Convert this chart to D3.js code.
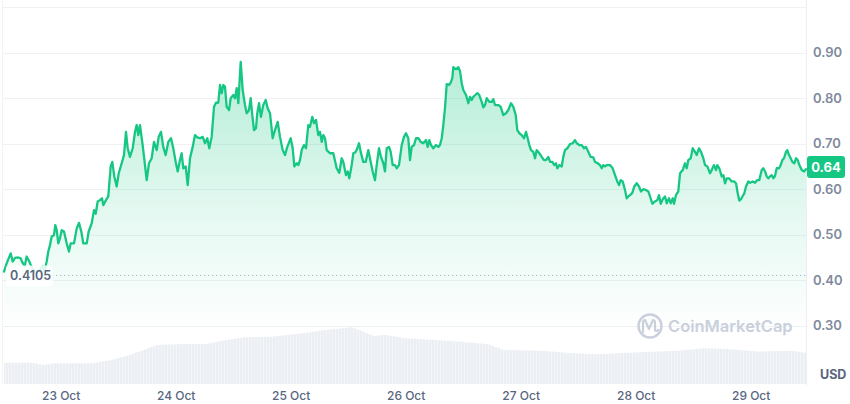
<!DOCTYPE html>
<html><head><meta charset="utf-8">
<script src="https://cdn.jsdelivr.net/npm/d3@7"></script>
<style>
html,body{margin:0;padding:0;background:#fff;}
svg{display:block;font-family:Inter,"Noto Sans",sans-serif;}
</style>
</head><body>
<svg id="chart" width="850" height="404"></svg>
<script>
// ---------- DATA ----------
const startDateUTC = Date.UTC(2023, 9, 22); // 22 Oct, 00:00 UTC; times below are hours after this

const priceHours = [
12.17,12.73,13.57,13.98,14.46,15.15,15.65,16.07,16.49,16.90,
17.45,18.01,18.64,19.47,20.24,20.62,21.08,21.41,21.77,22.12,
22.60,22.87,23.17,23.50,23.85,24.21,24.69,25.25,25.73,26.09,
26.78,27.34,27.82,28.30,28.72,29.43,29.84,30.47,30.95,31.31,
31.72,32.20,32.62,32.89,33.45,33.93,34.44,34.77,35.19,35.69,
36.11,36.73,37.21,37.63,37.98,38.46,39.03,39.51,39.86,40.20,
40.55,41.11,41.59,41.95,42.43,42.99,43.47,44.04,44.45,44.93,
45.41,45.91,46.46,47.02,47.50,48.00,48.42,48.90,49.25,49.59,
50.09,50.51,50.99,51.55,52.03,52.51,53.07,
53.64,54.12,54.60,55.01,55.51,56.00,56.41,56.89,57.25,57.60,
57.94,58.29,58.64,59.13,59.48,60.02,60.38,60.73,61.07,61.57,
61.98,62.46,62.82,63.30,63.65,63.99,64.34,64.76,65.03,65.39,
65.80,66.28,66.78,67.20,67.68,68.24,68.72,69.29,69.77,70.33,
70.81,71.29,72.00,72.42,72.75,73.25,73.59,73.94,74.30,74.78,
75.20,75.67,76.03,76.51,76.86,77.28,77.76,78.12,78.47,78.81,
79.16,79.51,80.20,80.89,81.60,82.14,82.65,82.98,83.54,83.90,
84.23,84.73,85.07,85.57,85.90,86.26,86.61,87.15,87.65,88.20,
88.70,89.11,89.59,89.95,90.43,90.85,91.33,91.68,92.04,92.52,
92.87,93.29,93.77,94.12,94.60,95.17,95.65,
96.06,96.54,96.90,97.25,97.73,98.15,98.63,99.13,99.68,100.24,
100.59,100.93,101.28,101.76,102.33,102.81,103.16,103.52,103.85,104.20,
104.56,105.04,105.39,105.73,105.94,106.50,106.98,107.33,107.69,108.02,
108.59,109.07,109.42,109.78,110.11,110.53,110.94,111.36,111.86,112.20,
112.55,112.91,113.45,113.95,114.28,114.64,115.33,115.83,116.37,116.93,
117.41,117.98,118.46,118.96,119.29,119.71,120.21,120.69,121.11,121.46,
121.80,122.15,122.63,122.99,123.34,123.88,124.39,124.86,125.28,125.76,
126.12,126.60,127.02,127.37,127.64,128.06,128.56,128.89,129.25,129.73,
130.29,130.85,131.33,131.69,132.23,132.73,133.21,133.63,134.11,134.61,
135.15,135.51,136.07,136.55,
136.91,137.24,137.60,137.95,138.64,139.20,139.68,140.16,140.52,140.87,
141.29,141.77,142.12,142.46,142.81,143.29,143.71,144.21,144.69,145.11,
145.59,146.15,146.63,146.99,147.47,148.03,148.51,148.87,149.22,149.64,
150.12,150.47,150.95,151.31,151.72,152.00,152.41,152.89,153.25,153.81,
154.29,154.65,154.98,155.48,155.90,156.38,156.73,157.21,157.63,158.11,
158.47,158.95,159.51,159.86,160.34,160.76,161.03,161.45,161.95,162.29,
162.64,163.00,163.47,164.04,164.52,164.94,165.29,165.62,165.98,166.33,
166.67,167.02,167.50,167.86,168.42,168.90,169.38,169.80,170.30,170.63,
170.99,171.34,171.68,172.03,172.39,172.72,173.07,173.43,173.91,174.26,
174.60,174.95,175.37,175.64,176.00,176.35,176.69,177.10,177.46,177.81,
178.15,178.65,179.13,179.54
];

const prices = [
0.419,0.437,0.459,0.441,0.449,0.450,0.448,0.438,0.431,0.452,
0.441,0.427,0.418,0.422,0.430,0.420,0.441,0.463,0.477,0.496,
0.499,0.521,0.510,0.481,0.492,0.510,0.507,0.481,0.463,0.481,
0.481,0.514,0.526,0.507,0.481,0.481,0.507,0.525,0.554,0.546,
0.573,0.576,0.580,0.565,0.576,0.584,0.650,0.660,0.628,0.606,
0.635,0.657,0.675,0.726,0.690,0.671,0.690,0.726,0.741,0.719,
0.741,0.697,0.653,0.620,0.657,0.668,0.704,0.686,0.715,0.726,
0.693,0.675,0.704,0.712,0.690,0.660,0.639,0.664,0.679,0.646,
0.650,0.609,0.668,0.693,0.719,0.714,0.712,
0.715,0.701,0.712,0.690,0.715,0.781,0.790,0.790,0.829,0.811,
0.829,0.825,0.781,0.774,0.800,0.807,0.800,0.822,0.789,0.880,
0.818,0.785,0.767,0.774,0.800,0.763,0.730,0.734,0.767,0.789,
0.759,0.785,0.796,0.778,0.767,0.712,0.730,0.748,0.715,0.686,
0.675,0.693,0.712,0.690,0.650,0.657,0.653,0.664,0.686,0.697,
0.690,0.741,0.737,0.759,0.745,0.752,0.719,0.726,0.704,0.719,
0.712,0.686,0.679,0.679,0.646,0.636,0.668,0.660,0.631,0.639,
0.624,0.653,0.679,0.682,0.690,0.701,0.682,0.660,0.660,0.686,
0.660,0.639,0.620,0.653,0.690,0.671,0.657,0.639,0.690,0.693,
0.682,0.653,0.653,0.646,0.653,0.697,0.715,
0.723,0.712,0.664,0.693,0.697,0.712,0.712,0.704,0.701,0.708,
0.693,0.708,0.697,0.690,0.697,0.693,0.697,0.712,0.741,0.778,
0.831,0.829,0.834,0.844,0.868,0.864,0.868,0.860,0.833,0.818,
0.807,0.789,0.803,0.796,0.803,0.807,0.811,0.807,0.792,0.780,
0.785,0.800,0.792,0.792,0.798,0.785,0.785,0.781,0.763,0.767,
0.774,0.789,0.781,0.763,0.730,0.723,0.719,0.712,0.726,0.712,
0.697,0.686,0.682,0.668,0.686,0.679,0.671,0.664,0.664,0.671,
0.660,0.660,0.653,0.657,0.646,0.653,0.650,0.671,0.686,0.690,
0.699,0.701,0.708,0.701,0.697,0.697,0.690,0.693,0.682,0.671,
0.670,0.660,0.657,0.653,
0.646,0.653,0.650,0.653,0.653,0.646,0.631,0.617,0.609,0.620,
0.617,0.598,0.580,0.584,0.587,0.592,0.606,0.613,0.606,0.595,
0.600,0.598,0.595,0.584,0.568,0.573,0.576,0.587,0.568,0.578,
0.584,0.569,0.580,0.569,0.580,0.568,0.587,0.595,0.635,0.642,
0.657,0.646,0.664,0.668,0.690,0.682,0.675,0.690,0.682,0.668,
0.653,0.650,0.635,0.642,0.653,0.642,0.653,0.646,0.628,0.631,
0.613,0.624,0.624,0.617,0.617,0.613,0.591,0.575,0.578,0.585,
0.591,0.606,0.617,0.614,0.617,0.614,0.620,0.620,0.642,0.646,
0.639,0.628,0.624,0.628,0.631,0.624,0.629,0.646,0.646,0.653,
0.664,0.668,0.682,0.686,0.675,0.668,0.660,0.657,0.668,0.664,
0.653,0.642,0.639,0.644
];

const volumeHours = [12.17,17.98,20.31,22.60,30.53,33.87,38.46,44.09,49.73,54.32,
57.66,62.26,67.89,74.57,79.16,84.80,89.39,91.68,96.06,101.91,
107.54,113.18,116.52,124.45,131.13,135.72,142.61,152.83,158.47,164.11,
169.74,176.42,179.54];
const volumes = [21.3,21.3,19.0,20.7,20.7,23.3,29.0,39.0,40.0,40.0,
43.3,46.7,47.3,50.7,54.0,56.7,48.0,49.0,45.7,44.0,
42.3,39.7,34.0,33.3,30.7,29.7,31.3,33.3,35.7,34.7,
32.3,33.3,31.3];

const yTickValues = [0.3, 0.4, 0.5, 0.6, 0.7, 0.8, 0.9];
const gridValues = [0.3, 0.4, 0.5, 0.6, 0.7, 0.8, 0.9, 1.0];
const openPrice = 0.4105;
const openPriceLabel = "0.4105";
const lastPriceLabel = "0.64";
const currencyLabel = "USD";
const watermark = "CoinMarketCap";

// ---------- BUILD ----------
const toDate = h => new Date(startDateUTC + h * 3600e3);
const priceData = priceHours.map((h, i) => ({ t: toDate(h), v: prices[i] }));
const volumeData = volumeHours.map((h, i) => ({ t: toDate(h), v: volumes[i] }));

const GREEN = "#16c784";
const svg = d3.select("#chart");
const plotLeft = 4, plotRight = 806, plotBottom = 385;

const x = d3.scaleUtc()
  .domain(d3.extent(priceData, d => d.t))
  .range([plotLeft, plotRight]);
const y = d3.scaleLinear().domain([0.3, 1.0]).range([325.7, 7.2]);
const yVol = d3.scaleLinear().domain([0, 60]).range([384, 324]);

const defs = svg.append("defs");
const grad = defs.append("linearGradient").attr("id", "priceFill")
  .attr("gradientUnits", "userSpaceOnUse")
  .attr("x1", 0).attr("x2", 0).attr("y1", y(0.88)).attr("y2", 330);
grad.append("stop").attr("offset", 0).attr("stop-color", GREEN).attr("stop-opacity", 0.32);
grad.append("stop").attr("offset", 0.55).attr("stop-color", GREEN).attr("stop-opacity", 0.12);
grad.append("stop").attr("offset", 1).attr("stop-color", GREEN).attr("stop-opacity", 0.0);

const pat = defs.append("pattern").attr("id", "volStripes")
  .attr("patternUnits", "userSpaceOnUse").attr("width", 3).attr("height", 10);
pat.append("rect").attr("width", 3).attr("height", 10).attr("fill", "#ebeef3");
pat.append("rect").attr("x", 2).attr("width", 1).attr("height", 10).attr("fill", "#f3f5f8");

// grid
svg.append("g").selectAll("line").data(gridValues).join("line")
  .attr("x1", 2).attr("x2", plotRight)
  .attr("y1", d => Math.round(y(d)) + 0.5).attr("y2", d => Math.round(y(d)) + 0.5)
  .attr("stroke", "#eff1f4").attr("stroke-width", 1);

// frame lines
svg.append("line").attr("x1", 2.5).attr("x2", 2.5).attr("y1", 0).attr("y2", plotBottom)
  .attr("stroke", "#f1f3f6");
svg.append("line").attr("x1", plotRight + 0.5).attr("x2", plotRight + 0.5).attr("y1", 0).attr("y2", plotBottom)
  .attr("stroke", "#eceef2");

// volume
svg.append("path").datum(volumeData)
  .attr("d", d3.area().x(d => x(d.t)).y0(yVol(0)).y1(d => yVol(d.v)))
  .attr("fill", "url(#volStripes)");

// price area + line
svg.append("path").datum(priceData)
  .attr("d", d3.area().x(d => x(d.t)).y0(plotBottom).y1(d => y(d.v)))
  .attr("fill", "url(#priceFill)");

// open price dotted line
svg.append("line")
  .attr("x1", 52).attr("x2", plotRight)
  .attr("y1", y(openPrice)).attr("y2", y(openPrice))
  .attr("stroke", "#a7b1c2").attr("stroke-width", 1).attr("stroke-dasharray", "1.2,2.8");

svg.append("path").datum(priceData)
  .attr("d", d3.line().x(d => x(d.t)).y(d => y(d.v)))
  .attr("fill", "none").attr("stroke", GREEN).attr("stroke-width", 2.3)
  .attr("stroke-linejoin", "round").attr("stroke-linecap", "round");

// open price label
svg.append("rect").attr("x", 6).attr("y", y(openPrice) - 10).attr("width", 47).attr("height", 21)
  .attr("rx", 3).attr("fill", "#fff").attr("fill-opacity", 0.85);
svg.append("text").attr("x", 10).attr("y", y(openPrice)).attr("dy", "0.35em")
  .attr("font-size", 12.5).attr("font-weight", 600).attr("fill", "#58667e")
  .text(openPriceLabel);

// y axis (right)
const yAxis = svg.append("g").attr("transform", `translate(${plotRight},0)`)
  .call(d3.axisRight(y).tickValues(yTickValues).tickFormat(d3.format(".2f")).tickSize(0).tickPadding(7));
yAxis.select(".domain").remove();
yAxis.selectAll("text").attr("font-family", "Inter, sans-serif").attr("font-size", 13)
  .attr("font-weight", 600).attr("fill", "#808a9d");

// x axis (bottom)
const xAxis = svg.append("g").attr("transform", `translate(0,${plotBottom})`)
  .call(d3.axisBottom(x).ticks(d3.utcDay.every(1)).tickFormat(d3.utcFormat("%-d %b")).tickSize(0).tickPadding(6));
xAxis.select(".domain").remove();
xAxis.selectAll("text").attr("font-family", "Inter, sans-serif").attr("font-size", 12)
  .attr("font-weight", 500).attr("fill", "#58667e");

// currency
svg.append("text").attr("x", 820).attr("y", 375).attr("dy", "0.35em")
  .attr("font-size", 12.5).attr("font-weight", 700).attr("fill", "#58667e").text(currencyLabel);

// last price badge
const lastY = 167;
svg.append("rect").attr("x", plotRight + 1).attr("y", lastY - 11).attr("width", 38).attr("height", 22)
  .attr("rx", 3).attr("fill", GREEN);
svg.append("text").attr("x", plotRight + 20).attr("y", lastY).attr("dy", "0.36em")
  .attr("text-anchor", "middle").attr("font-size", 13).attr("font-weight", 700).attr("fill", "#fff")
  .text(lastPriceLabel);

// watermark
const wm = svg.append("g");
wm.append("circle").attr("cx", 650).attr("cy", 326).attr("r", 11.5)
  .attr("fill", "none").attr("stroke", "#c9d0dc").attr("stroke-width", 2.4);
wm.append("path").attr("d", "M643,332 L643,323 Q643,320 645,320 L649,329 L653,320 Q655,320 655,323 L655,330 Q656,332 658,330")
  .attr("fill", "none").attr("stroke", "#c9d0dc").attr("stroke-width", 2.2)
  .attr("stroke-linejoin", "round").attr("stroke-linecap", "round");
wm.append("text").attr("x", 668).attr("y", 326).attr("dy", "0.35em")
  .attr("font-size", 16.5).attr("font-weight", 600).attr("fill", "#c9d0dc").text(watermark);
</script>
</body></html>
